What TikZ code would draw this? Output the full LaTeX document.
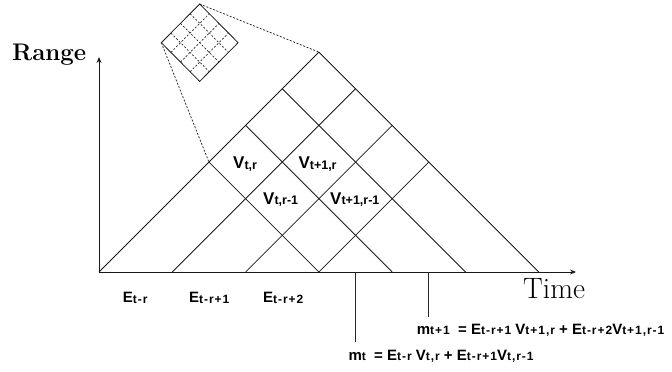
\documentclass[tikz,border=0pt]{standalone}
\usepackage{fontspec}
\newfontfamily\arialfont{Liberation Sans}
\newfontfamily\arialsub[LetterSpace=8]{Liberation Sans}
\usetikzlibrary{arrows.meta,calc}
\newcommand\gridsz{\fontsize{17}{17}\selectfont}
\newcommand\gridsub{\fontsize{12.5}{12.5}\selectfont}
\newcommand\bigsz{\fontsize{15}{15}\selectfont}
\newcommand\subsz{\fontsize{12}{12}\selectfont}
% cell label (no extra letter spacing)
\newcommand\gv[2]{{\arialfont\bfseries{\gridsz #1}\raisebox{-0.8pt}{\gridsub #2}}}
% label used under the axis and in the equations
\newcommand\vv[2]{{\arialfont\bfseries{\bigsz #1}\raisebox{-0.8pt}{\arialsub\bfseries\subsz #2}}}
\tikzset{
  grid line/.style={draw=black!90, line width=0.8pt},
  axis/.style={draw=black!90, line width=0.95pt, -{Stealth[length=6pt,width=5pt]}},
  tick line/.style={draw=black!85, line width=0.8pt},
  zoom dash/.style={draw=black!85, line width=0.75pt, dash pattern=on 2pt off 1.6pt},
  inner dash/.style={draw=black!85, line width=0.7pt, dash pattern=on 2pt off 1.8pt},
  lbl/.style={inner sep=0pt, anchor=base west},
  eq/.style={inner sep=0pt, anchor=base west},
}
\begin{document}
\begin{tikzpicture}[x=1pt,y=-1pt]
\useasboundingbox (0,0) rectangle (672,372);
\def\u{73.3}
% origin
\coordinate (O) at (99,272);
% axes
\coordinate (Ytip) at (99,57);
\coordinate (Xtip) at (576,272);
\draw[axis] (O) -- (Ytip);
\draw[axis] (O) -- (Xtip);
% lattice: rising lines from (a,0) to ((a+6)/2,(6-a)/2)
\foreach \a in {0,1,2,3}{
  \coordinate (r\a s) at ({99+\a*\u},272);
  \coordinate (r\a e) at ({99+(\a+6)/2*\u},{272-(6-\a)/2*\u});
  \draw[grid line] (r\a s) -- (r\a e);
}
% falling lines from (b/2,b/2) to (b,0)
\foreach \b in {3,4,5,6}{
  \coordinate (f\b s) at ({99+\b/2*\u},{272-\b/2*\u});
  \coordinate (f\b e) at ({99+\b*\u},272);
  \draw[grid line] (f\b s) -- (f\b e);
}
% inset diamond
\coordinate (it) at (199.7,4);
\coordinate (il) at (161.3,42.7);
\coordinate (ib) at (199.7,81.4);
\coordinate (ir) at (238.1,42.7);
\draw[grid line] (it) -- (ir) -- (ib) -- (il) -- cycle;
\foreach \k in {1,2,3}{
  \draw[inner dash] ($(il)!\k/4!(it)$) -- ($(ib)!\k/4!(ir)$);
  \draw[inner dash] ($(il)!\k/4!(ib)$) -- ($(it)!\k/4!(ir)$);
}
\draw[zoom dash] (it) -- (r0e);
\draw[zoom dash] (il) -- (f3s);
% ticks below axis
\coordinate (m1t) at ({99+3.5*\u},272);
\coordinate (m1b) at ({99+3.5*\u},342);
\coordinate (m2t) at ({99+4.5*\u},272);
\coordinate (m2b) at ({99+4.5*\u},317);
\draw[tick line] (m1t) -- (m1b);
\draw[tick line] (m2t) -- (m2b);
% axis titles
\node[eq] (range) at (12,60.7) {\fontsize{24}{25}\selectfont\bfseries Range};
\node[eq] (time) at (523,298) {\fontsize{29.5}{30}\selectfont Time};
% cell labels
\node[lbl] (v1) at (233,168.5) {\gv{V}{t,r}};
\node[lbl] (v2) at (298.3,168.5) {\gv{V}{t+1,r}};
\node[lbl] (v3) at (263,204) {\gv{V}{t,r-1}};
\node[lbl] (v4) at (330,204) {\gv{V}{t+1,r-1}};
% E labels
\node[lbl] (e1) at (122.7,302.7) {\vv{E}{t-r}};
\node[lbl] (e2) at (189,302.7) {\vv{E}{t-r+1}};
\node[lbl] (e3) at (263,302.7) {\vv{E}{t-r+2}};
% equations
\node[eq] (eqa) at (416.7,334) {\vv{m}{t+1}\arialfont\bfseries\bigsz\ \ = \vv{E}{t-r+1} \vv{V}{t+1,r} + \vv{E}{t-r+2}\vv{V}{t+1,r-1}};
\node[eq] (eqb) at (348.3,360) {\vv{m}{t}\arialfont\bfseries\bigsz\ \ = \vv{E}{t-r} \vv{V}{t,r} + \vv{E}{t-r+1}\vv{V}{t,r-1}};
\end{tikzpicture}
\end{document}
